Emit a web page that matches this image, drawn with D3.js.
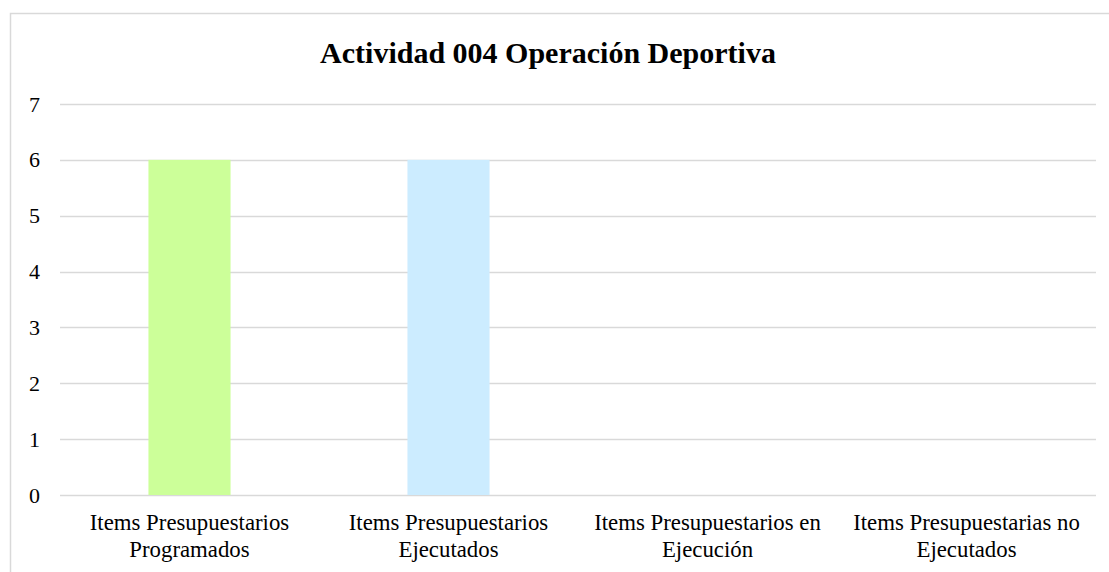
<!DOCTYPE html>
<html><head><meta charset="utf-8">
<script src="https://cdn.jsdelivr.net/npm/d3@7"></script>
<style>body{margin:0;background:#fff}svg{display:block}</style>
</head><body>
<svg id="c" width="1109" height="572"></svg>
<script>
const title = "Actividad 004 Operación Deportiva";
const categories = [
  ["Items Presupuestarios", "Programados"],
  ["Items Presupuestarios", "Ejecutados"],
  ["Items Presupuestarios en", "Ejecución"],
  ["Items Presupuestarias no", "Ejecutados"]
];
const values = [6, 6, 0, 0];
const colors = ["#CCFF99", "#CCECFF", "#CCCCCC", "#CCCCCC"];
const yTicks = [0, 1, 2, 3, 4, 5, 6, 7];

const svg = d3.select("#c");
const font = "'Liberation Serif','Times New Roman',serif";
// outer border
svg.append("rect").attr("x", 10.5).attr("y", 13.5).attr("width", 1120).attr("height", 600)
  .attr("fill", "none").attr("stroke", "#D9D9D9").attr("stroke-width", 1.5);

const m = {l: 60, r: 1096, t: 104, b: 495};
const x = d3.scaleBand().domain(categories.map((d, i) => i)).range([m.l, m.r]).paddingInner(0.683).paddingOuter(0.3415);
const y = d3.scaleLinear().domain([0, 7]).range([m.b, m.t]);

const grid = svg.append("g");
grid.selectAll("line").data(yTicks).join("line")
  .attr("x1", m.l).attr("x2", m.r)
  .attr("y1", d => Math.round(y(d)) + 0.5).attr("y2", d => Math.round(y(d)) + 0.5)
  .attr("stroke", "#D9D9D9").attr("stroke-width", 1.5);

const yAxis = d3.axisLeft(y).tickValues(yTicks).tickFormat(d3.format("d")).tickSize(0).tickPadding(20);
svg.append("g").attr("transform", `translate(${m.l},0)`).call(yAxis)
  .call(g => g.select(".domain").remove())
  .selectAll("text").attr("font-family", font).attr("font-size", 22).attr("fill", "#000");

svg.append("g").selectAll("rect").data(values).join("rect")
  .attr("x", (d, i) => x(i)).attr("width", x.bandwidth())
  .attr("y", d => y(d)).attr("height", d => y(0) - y(d))
  .attr("fill", (d, i) => colors[i]);

const xl = svg.append("g").selectAll("text").data(categories).join("text")
  .attr("x", (d, i) => x(i) + x.bandwidth() / 2)
  .attr("y", 530).attr("text-anchor", "middle")
  .attr("font-family", font).attr("font-size", 22.8).attr("fill", "#000");
xl.selectAll("tspan").data(d => d).join("tspan")
  .attr("x", function() { return d3.select(this.parentNode).attr("x"); })
  .attr("dy", (d, i) => i === 0 ? 0 : 27).text(d => d);

svg.append("text").attr("x", 548).attr("y", 63).attr("text-anchor", "middle")
  .attr("font-family", font).attr("font-weight", "bold").attr("font-size", 30)
  .attr("fill", "#000").text(title);
</script>
</body></html>
